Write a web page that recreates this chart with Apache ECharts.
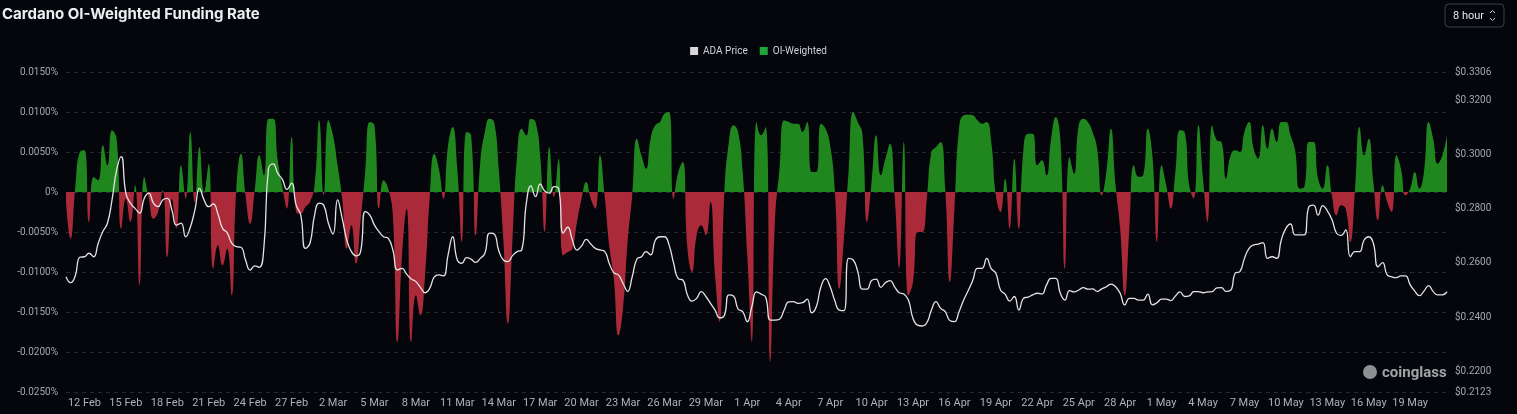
<!DOCTYPE html>
<html>
<head>
<meta charset="utf-8">
<title>Cardano OI-Weighted Funding Rate</title>
<script src="https://cdn.jsdelivr.net/npm/echarts@6/dist/echarts.min.js"></script>
<style>
  html, body { margin: 0; padding: 0; background: #05060b; }
  #chart { width: 1517px; height: 414px; }
</style>
</head>
<body>
<div id="chart"></div>
<script>
  // 8-hour samples, first one on 10 Feb 16:00 (UTC)
  var startTime = Date.UTC(2026, 1, 10, 16);
  var stepHours = 8;
  var monthNames = ["Jan", "Feb", "Mar", "Apr", "May", "Jun", "Jul", "Aug", "Sep", "Oct", "Nov", "Dec"];

  // OI-weighted funding rate, in %
  var oiWeighted = [
    -0.00125, -0.00583, 0.00042, 0.0050, 0.00521, -0.00375, 0.00188, 0.00146, 0.00583, 0.00333,
    0.00771, 0.00667, -0.00458, -0.00083, -0.00375, 0.00083, -0.01167, 0.00188, -0.00083, -0.00333,
    -0.0025, 0.00021, -0.00813, -0.00083, -0.00458, 0.00333, -0.00083, 0.0075, -0.00125, 0.00563,
    0, 0.00354, -0.00958, -0.00667, -0.00917, -0.00708, -0.01292, 0.00042, 0.00479, -0.00042,
    -0.00396, 0.00021, 0.00458, 0.00208, 0.00917, 0.00917, 0.00396, 0.00063, -0.00208, 0.00688,
    -0.0025, -0.00271, -0.00188, -0.00125, 0.00083, 0.00896, -0.00042, 0.00896, 0.00708, 0.00333,
    -0.00083, -0.00708, -0.00417, -0.00896, -0.00354, 0.0025, 0.00875, 0.00833, -0.00208, 0.00146,
    0.00042, -0.00292, -0.01875, -0.00792, -0.00208, -0.01875, -0.01292, -0.01542, -0.01042, -0.00083,
    0.00479, 0.00292, -0.00083, 0.00583, 0.00813, 0.00292, -0.00625, 0.0075, 0.00708, -0.00542,
    0.00375, 0.0075, 0.00917, 0.00875, 0.00292, -0.00583, -0.01646, -0.00583, 0.00458, 0.00792,
    0.00708, 0.00917, 0.00875, 0.00458, -0.005, 0.00563, -0.00063, 0.00417, -0.00792, -0.0075,
    -0.00708, -0.00375, -0.00083, 0.00125, -0.00083, -0.00208, 0.00458, -0.00042, -0.00667, -0.01083,
    -0.01792, -0.01458, -0.00625, -0.00042, 0.00667, 0.00458, 0.00292, 0.00667, 0.00833, 0.00875,
    0.00979, 0.0100, -0.00083, 0.0025, 0.00375, -0.00708, -0.01, -0.00542, -0.00417, -0.00542,
    -0.00125, -0.01042, -0.01625, -0.00042, 0.00625, 0.00833, 0.0075, 0.0025, -0.00792, -0.01875,
    0.00875, 0.00708, 0.00813, -0.02125, -0.00375, 0.00292, 0.00896, 0.00875, 0.00854, 0.00854,
    0.0075, 0.00875, 0.0025, 0.0025, 0.00854, 0.00792, 0.00583, 0.00042, -0.01208, -0.00583,
    0.0025, 0.0100, 0.00875, 0.00729, -0.00375, 0.00125, 0.00708, 0.00208, 0.00417, 0.00604,
    -0.00042, -0.00958, 0.00625, -0.01292, -0.01125, -0.005, -0.005, -0.00083, 0.005, 0.00563,
    0.00625, 0.00042, -0.01125, -0.00208, 0.00792, 0.00958, 0.00967, 0.00958, 0.00896, 0.00854,
    0.00875, 0.00625, -0.00042, -0.0025, 0.00167, -0.00458, 0.00417, -0.00458, 0.00542, 0.00729,
    0.00729, 0.00333, 0.00396, 0.00208, 0.00667, 0.00938, 0.00667, -0.00958, 0.00438, 0.00229,
    0.00833, 0.00917, 0.00875, 0.0075, 0.00542, -0.00042, 0.0025, 0.00792, 0.00083, -0.00458,
    -0.01292, -0.00458, 0.00333, 0.00188, 0.00208, 0.00792, 0.00458, -0.00625, 0.00333, 0.00083,
    -0.00208, 0.0025, 0.00771, 0.0075, 0.00083, -0.00083, 0.00833, 0.00167, -0.00375, 0.00833,
    0.00646, 0.00625, 0.00167, 0.00458, 0.00521, 0.005, 0.0075, 0.00875, 0.00542, 0.00417,
    0.00833, 0.00542, 0.00792, 0.00625, 0.00875, 0.00875, 0.00708, 0.00521, 0.00042, 0.00063,
    0.00625, 0.00625, 0.00167, 0.00042, 0.00333, -0.00042, -0.00292, -0.00167, -0.00208, -0.00625,
    0, 0.00813, 0.00458, 0.00667, 0.00125, -0.00354, 0.00083, -0.00125, -0.0025, 0.00458,
    0.00292, -0.00042, 0.00042, 0.0025, 0.00042, 0.0025, 0.00875, 0.00667, 0.00354, 0.00458, 0.00708
  ];

  // ADA price, USD
  var adaPrice = [
    0.2549, 0.2527, 0.2552, 0.2621, 0.2623, 0.2636, 0.2623, 0.2673, 0.2716, 0.2747,
    0.2833, 0.2944, 0.2993, 0.2858, 0.2821, 0.2802, 0.2784, 0.2839, 0.2858, 0.2821,
    0.2808, 0.2833, 0.2839, 0.2796, 0.2740, 0.2747, 0.2697, 0.2732, 0.2796, 0.2876,
    0.2833, 0.2808, 0.2818, 0.2781, 0.2728, 0.2712, 0.2673, 0.2660, 0.2658, 0.2611,
    0.2574, 0.2589, 0.2584, 0.2660, 0.2950, 0.2966, 0.2931, 0.2909, 0.2872, 0.2895,
    0.2814, 0.2777, 0.2654, 0.2673, 0.2777, 0.2821, 0.2813, 0.2747, 0.2707, 0.2833,
    0.2765, 0.2685, 0.2642, 0.2626, 0.2642, 0.2790, 0.2777, 0.2740, 0.2716, 0.2697,
    0.2691, 0.2648, 0.2574, 0.2580, 0.2559, 0.2541, 0.2531, 0.2510, 0.2490, 0.2506,
    0.2549, 0.2556, 0.2552, 0.2630, 0.2697, 0.2611, 0.2599, 0.2620, 0.2614, 0.2602,
    0.2617, 0.2636, 0.2710, 0.2707, 0.2646, 0.2611, 0.2605, 0.2627, 0.2642, 0.2648,
    0.2821, 0.2885, 0.2845, 0.2892, 0.2866, 0.2858, 0.2882, 0.2876, 0.2710, 0.2732,
    0.2685, 0.2648, 0.2663, 0.2687, 0.2670, 0.2654, 0.2648, 0.2643, 0.2599, 0.2564,
    0.2556, 0.2525, 0.2495, 0.2549, 0.2614, 0.2623, 0.2642, 0.2630, 0.2683, 0.2697,
    0.2697, 0.2667, 0.2599, 0.2542, 0.2537, 0.2482, 0.2459, 0.2469, 0.2494, 0.2476,
    0.2451, 0.2426, 0.2397, 0.2405, 0.2482, 0.2478, 0.2430, 0.2420, 0.2383, 0.2439,
    0.2493, 0.2485, 0.2473, 0.2389, 0.2389, 0.2392, 0.2426, 0.2456, 0.2457, 0.2451,
    0.2453, 0.2466, 0.2416, 0.2439, 0.2512, 0.2542, 0.2512, 0.2461, 0.2426, 0.2424,
    0.2617, 0.2611, 0.2568, 0.2503, 0.2503, 0.2535, 0.2540, 0.2510, 0.2527, 0.2535,
    0.2512, 0.2490, 0.2485, 0.2463, 0.2395, 0.2370, 0.2367, 0.2379, 0.2426, 0.2457,
    0.2432, 0.2420, 0.2387, 0.2383, 0.2420, 0.2463, 0.2498, 0.2537, 0.2580, 0.2580,
    0.2617, 0.2579, 0.2562, 0.2500, 0.2485, 0.2459, 0.2476, 0.2426, 0.2469, 0.2474,
    0.2482, 0.2488, 0.2485, 0.2519, 0.2543, 0.2543, 0.2488, 0.2463, 0.2498, 0.2493,
    0.2500, 0.2509, 0.2503, 0.2504, 0.2495, 0.2504, 0.2512, 0.2522, 0.2512, 0.2488,
    0.2445, 0.2469, 0.2469, 0.2463, 0.2463, 0.2485, 0.2445, 0.2453, 0.2466, 0.2466,
    0.2461, 0.2478, 0.2493, 0.2476, 0.2478, 0.2494, 0.2494, 0.2490, 0.2493, 0.2494,
    0.2508, 0.2509, 0.2495, 0.2499, 0.2562, 0.2568, 0.2617, 0.2654, 0.2667, 0.2670,
    0.2675, 0.2617, 0.2623, 0.2617, 0.2685, 0.2728, 0.2744, 0.2704, 0.2704, 0.2704,
    0.2808, 0.2814, 0.2777, 0.2812, 0.2793, 0.2761, 0.2710, 0.2702, 0.2722, 0.2623,
    0.2642, 0.2642, 0.2685, 0.2697, 0.2673, 0.2586, 0.2601, 0.2556, 0.2549, 0.2546,
    0.2552, 0.2552, 0.2519, 0.2496, 0.2479, 0.2496, 0.2516, 0.2494, 0.2482, 0.2482, 0.2494
  ];

  var priceMin = 0.2123;
  var priceMax = 0.3306;
  var rateMin = -0.025;
  var rateMax = 0.015;
  var rateStep = 0.005;

  // category labels, one per sample
  var categories = [];
  for (var i = 0; i < adaPrice.length; i++) {
    var d = new Date(startTime + i * stepHours * 3600 * 1000);
    categories.push(d.getUTCDate() + " " + monthNames[d.getUTCMonth()]);
  }
  // first labelled sample is 12 Feb 00:00, then every 3 days
  var firstLabel = 4;
  var labelEvery = 9;

  var chart = echarts.init(document.getElementById("chart"));

  var option = {
    backgroundColor: "#05060b",
    animation: false,
    textStyle: { fontFamily: "Roboto, sans-serif" },
    title: {
      text: "Cardano OI-Weighted Funding Rate",
      left: -3,
      top: 2,
      textStyle: {
        color: "#eceef2",
        fontSize: 15,
        fontWeight: "bold",
        fontFamily: "Inter, sans-serif"
      }
    },
    legend: {
      top: 41,
      left: "center",
      itemWidth: 8,
      itemHeight: 8,
      itemGap: 12,
      icon: "rect",
      textStyle: { color: "#cfd1d6", fontSize: 10 },
      data: [
        { name: "ADA Price", itemStyle: { color: "#d8d8d8" } },
        { name: "OI-Weighted", itemStyle: { color: "#22a63c" } }
      ]
    },
    grid: {
      left: 66,
      right: 70,
      top: 72,
      bottom: 22
    },
    // finite pieces: open-ended ones leave the line gradient without stops
    visualMap: {
      show: false,
      seriesIndex: 1,
      dimension: 1,
      pieces: [
        { gt: -1, lt: 0, color: "#ab2a39" },
        { gte: 0, lt: 1, color: "#1f871d" }
      ]
    },
    xAxis: {
      type: "category",
      boundaryGap: false,
      data: categories,
      axisLine: { show: false },
      axisTick: { show: false },
      axisLabel: {
        color: "#aeb1b8",
        fontSize: 11,
        margin: 6,
        interval: function (idx) {
          return idx >= firstLabel && (idx - firstLabel) % labelEvery === 0;
        }
      },
      splitLine: { show: false }
    },
    yAxis: [
      {
        type: "value",
        min: rateMin,
        max: rateMax,
        interval: rateStep,
        axisLine: { show: false },
        axisTick: { show: false },
        axisLabel: {
          color: "#a3a6ad",
          fontSize: 10,
          margin: 8,
          formatter: function (v) {
            if (Math.abs(v) < 1e-9) return "0%";
            return v.toFixed(4) + "%";
          }
        },
        splitLine: {
          show: true,
          lineStyle: { color: "#262931", type: [4, 4], width: 1 }
        }
      },
      {
        type: "value",
        min: priceMin,
        max: priceMax,
        splitNumber: 5,
        position: "right",
        axisLine: { show: false },
        axisTick: { show: false },
        axisLabel: {
          color: "#a3a6ad",
          fontSize: 10,
          margin: 8,
          formatter: function (v) {
            return "$" + v.toFixed(4);
          }
        },
        splitLine: { show: false }
      }
    ],
    graphic: [
      {
        type: "rect",
        shape: { x: 1445, y: 4, width: 59, height: 23, r: 4 },
        style: { fill: "transparent", stroke: "#3c3f47", lineWidth: 1 }
      },
      {
        type: "text",
        x: 1453,
        y: 16,
        style: {
          text: "8 hour",
          fill: "#e6e7ea",
          font: "11px Roboto, sans-serif",
          textVerticalAlign: "middle"
        }
      },
      {
        type: "polyline",
        shape: { points: [[1490, 13], [1492.5, 10.5], [1495, 13]] },
        style: { stroke: "#c9cbd0", fill: "none", lineWidth: 1 }
      },
      {
        type: "polyline",
        shape: { points: [[1490, 18], [1492.5, 20.5], [1495, 18]] },
        style: { stroke: "#c9cbd0", fill: "none", lineWidth: 1 }
      },
      {
        type: "circle",
        shape: { cx: 1370, cy: 372, r: 7 },
        style: { fill: "#8e8f93" }
      },
      {
        type: "text",
        x: 1382,
        y: 373,
        style: {
          text: "coinglass",
          fill: "#a2a3a7",
          font: "bold 15px Roboto, sans-serif",
          textVerticalAlign: "middle"
        }
      }
    ],
    series: [
      {
        name: "ADA Price",
        type: "line",
        yAxisIndex: 1,
        data: adaPrice,
        smooth: true,
        symbol: "none",
        z: 5,
        itemStyle: { color: "#d8d8d8" },
        lineStyle: { color: "#e4e4e6", width: 1.3 }
      },
      {
        name: "OI-Weighted",
        type: "line",
        yAxisIndex: 0,
        data: oiWeighted,
        smooth: true,
        symbol: "none",
        z: 2,
        itemStyle: { color: "#22a63c" },
        lineStyle: { width: 0 },
        areaStyle: { opacity: 1, origin: 0 }
      }
    ]
  };

  chart.setOption(option);
</script>
</body>
</html>
